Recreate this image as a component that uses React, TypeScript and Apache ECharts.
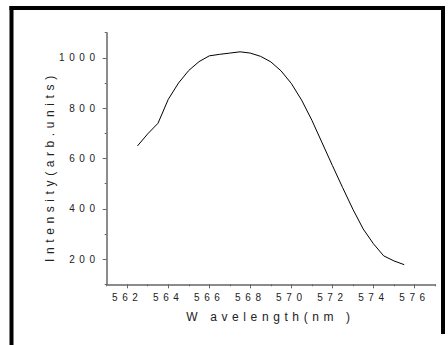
import React, { useEffect, useRef } from "react";
import * as echarts from "echarts";

const wavelength = [562.5, 563, 563.5, 564, 564.5, 565, 565.5, 566, 566.5, 567, 567.5, 568, 568.5, 569, 569.5, 570, 570.5, 571, 571.5, 572, 572.5, 573, 573.5, 574, 574.5, 575, 575.5];
const intensity = [650, 698, 740, 835, 900, 950, 985, 1008, 1014, 1019, 1024, 1019, 1006, 984, 948, 898, 832, 752, 662, 572, 484, 398, 320, 261, 213, 193, 178];

const xMajorTicks = [562, 564, 566, 568, 570, 572, 574, 576];
const xMinorTicks = [561, 563, 565, 567, 569, 571, 573, 575, 577];
const yMajorTicks = [200, 400, 600, 800, 1000];
const yMinorTicks = [100, 300, 500, 700, 900, 1100];

const xTitle = "W avelength(nm )";
const yTitle = "Intensity(arb.units)";

const FONT = "'Liberation Sans', Arial, sans-serif";
const AXIS_COLOR = "#666";
const TEXT_COLOR = "#222";

export default function App() {
  const ref = useRef<HTMLDivElement>(null);

  useEffect(() => {
    if (!ref.current) return;
    const chart = echarts.init(ref.current, undefined, { renderer: "svg" });
    const data = wavelength.map((w, i) => [w, intensity[i]]);
    const grid = { left: 106.7, right: 13, top: 32.7, bottom: 60.7, containLabel: false };
    const plain = (v: number) => String(v);

    chart.setOption({
      animation: false,
      backgroundColor: "#fff",
      grid,
      xAxis: [
        {
          type: "value",
          min: 561,
          max: 577,
          axisLine: { show: true, onZero: false, lineStyle: { color: AXIS_COLOR, width: 1.5 } },
          axisTick: { show: true, customValues: xMajorTicks, length: 4, lineStyle: { color: AXIS_COLOR, width: 1 } },
          axisLabel: { customValues: xMajorTicks, formatter: plain, margin: 8, fontSize: 10, fontFamily: FONT, color: TEXT_COLOR },
          splitLine: { show: false },
        },
        {
          type: "value",
          min: 561,
          max: 577,
          position: "bottom",
          axisLine: { show: false },
          axisTick: { show: true, customValues: xMinorTicks, length: 2, lineStyle: { color: AXIS_COLOR, width: 1 } },
          axisLabel: { show: false },
          splitLine: { show: false },
        },
      ],
      yAxis: [
        {
          type: "value",
          min: 100,
          max: 1100,
          axisLine: { show: true, onZero: false, lineStyle: { color: AXIS_COLOR, width: 1.5 } },
          axisTick: { show: true, customValues: yMajorTicks, length: 4, lineStyle: { color: AXIS_COLOR, width: 1 } },
          axisLabel: { customValues: yMajorTicks, formatter: plain, margin: 7, fontSize: 10, fontFamily: FONT, color: TEXT_COLOR },
          splitLine: { show: false },
        },
        {
          type: "value",
          min: 100,
          max: 1100,
          position: "left",
          axisLine: { show: false },
          axisTick: { show: true, customValues: yMinorTicks, length: 2, lineStyle: { color: AXIS_COLOR, width: 1 } },
          axisLabel: { show: false },
          splitLine: { show: false },
        },
      ],
      graphic: [
        { type: "rect", shape: { x: 9.5, y: 6, width: 435.5, height: 4 }, style: { fill: "#000" } },
        { type: "rect", shape: { x: 9.5, y: 6, width: 4, height: 345 }, style: { fill: "#000" } },
        { type: "rect", shape: { x: 441, y: 6, width: 4, height: 328 }, style: { fill: "#000" } },
        {
          type: "text",
          x: 270.5,
          y: 316.5,
          style: { text: xTitle, font: `12px ${FONT}`, fill: TEXT_COLOR, textAlign: "center", textVerticalAlign: "middle" },
        },
        {
          type: "text",
          x: 50.4,
          y: 166.6,
          rotation: Math.PI / 2,
          style: { text: yTitle, font: `12px ${FONT}`, fill: TEXT_COLOR, textAlign: "center", textVerticalAlign: "middle" },
        },
      ],
      series: [
        {
          type: "line",
          xAxisIndex: 0,
          yAxisIndex: 0,
          data,
          showSymbol: false,
          smooth: false,
          lineStyle: { color: "#000", width: 1 },
        },
      ],
    });

    return () => chart.dispose();
  }, []);

  return (
    <>
      <style>{".chartbox text{letter-spacing:4.6px}"}</style>
      <div
        ref={ref}
        className="chartbox"
        style={{ position: "fixed", left: 0, top: 0, width: 448, height: 345 }}
      />
    </>
  );
}
